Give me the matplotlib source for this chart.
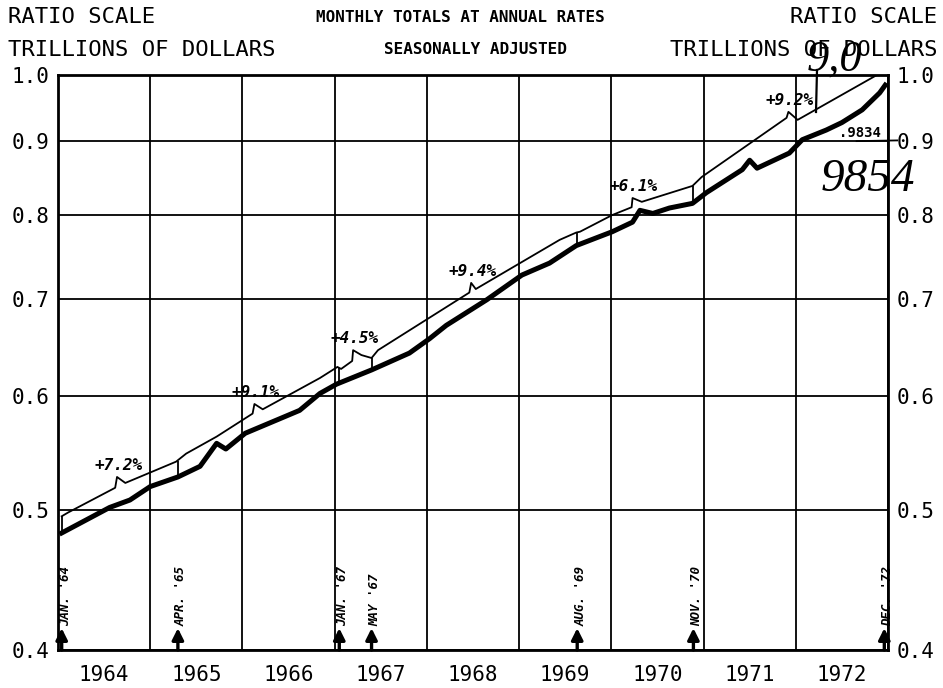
import numpy as np
import matplotlib.pyplot as plt
import matplotlib.transforms as mtransforms
from matplotlib.lines import Line2D
from matplotlib.ticker import NullLocator

# thick line: monthly totals, trillions of dollars (decimal year, value)
actual_dates = [1964.04, 1964.56, 1964.78, 1965.00, 1965.30, 1965.54, 1965.72, 1965.82,
                1966.03, 1966.37, 1966.62, 1966.84, 1967.02, 1967.40, 1967.81, 1968.03,
                1968.21, 1968.65, 1969.03, 1969.33, 1969.62, 1970.01, 1970.23, 1970.31,
                1970.45, 1970.63, 1970.88, 1971.03, 1971.42, 1971.50, 1971.58, 1971.93,
                1972.07, 1972.33, 1972.50, 1972.72, 1972.91, 1972.97]
actual_vals = [0.482, 0.502, 0.508, 0.519, 0.527, 0.536, 0.556, 0.551,
               0.565, 0.577, 0.586, 0.602, 0.611, 0.625, 0.642, 0.657,
               0.671, 0.699, 0.727, 0.741, 0.762, 0.779, 0.791, 0.806,
               0.802, 0.809, 0.815, 0.829, 0.860, 0.873, 0.862, 0.883,
               0.902, 0.916, 0.927, 0.946, 0.972, 0.984]

# thin line: growth-rate trend segments (with the little label notches)
trend_dates = [1964.04, 1964.11, 1964.62, 1964.64, 1964.73, 1965.28, 1965.39, 1965.72,
               1966.11, 1966.13, 1966.22, 1966.84, 1967.03, 1967.07, 1967.19, 1967.20,
               1967.29, 1967.40, 1967.47, 1968.46, 1968.48, 1968.53, 1969.44, 1969.62,
               1969.66, 1970.01, 1970.22, 1970.23, 1970.33, 1970.88, 1970.98, 1971.90,
               1971.92, 1972.02, 1972.88]
trend_vals = [0.495, 0.498, 0.518, 0.527, 0.522, 0.540, 0.547, 0.562,
              0.583, 0.592, 0.587, 0.617, 0.628, 0.626, 0.634, 0.645,
              0.640, 0.637, 0.645, 0.707, 0.718, 0.711, 0.769, 0.778,
              0.779, 0.800, 0.810, 0.822, 0.817, 0.838, 0.850, 0.934,
              0.943, 0.931, 1.000]
notch_idx = [3, 9, 15, 20, 27, 32]
rates = ["+7.2%", "+9.1%", "+4.5%", "+9.4%", "+6.1%", "+9.2%"]

# period boundaries
turn_dates = [1964.04, 1965.30, 1967.05, 1967.40, 1969.63, 1970.89, 1972.96]
turn_labels = ["JAN. '64", "APR. '65", "JAN. '67", "MAY '67", "AUG. '69", "NOV. '70", "DEC. '72"]
turn_low = [0.482, 0.527, 0.613, 0.625, 0.762, 0.815]
turn_high = [0.495, 0.541, 0.627, 0.637, 0.778, 0.838]

years = list(range(1964, 1973))
yticks = [0.4, 0.5, 0.6, 0.7, 0.8, 0.9, 1.0]
ytick_labels = ["0.4", "0.5", "0.6", "0.7", "0.8", "0.9", "1.0"]

mono = "DejaVu Sans Mono"

fig = plt.figure(figsize=(9.43, 6.88), dpi=100)
ax = fig.add_axes([58/943, 38/688, 830/943, 575/688])

ax.set_yscale("log")
ax.set_ylim(0.4, 1.0)
ax.set_xlim(1964, 1973)
ax.set_yticks(yticks, labels=ytick_labels)
ax.yaxis.set_minor_locator(NullLocator())
ax.set_xticks(range(1964, 1974), labels=[""] * 10)
ax.set_xticks([y + 0.5 for y in years], labels=[str(y) for y in years], minor=True)
ax.tick_params(which="both", length=0)
ax.tick_params(axis="y", labelleft=True, labelright=True, pad=6)
ax.tick_params(axis="x", which="minor", pad=11)
for lab in ax.get_xticklabels(minor=True) + ax.get_yticklabels():
    lab.set_fontfamily(mono)
    lab.set_fontsize(15)
ax.grid(which="major", color="black", lw=1.3)
for s in ax.spines.values():
    s.set_linewidth(2)

ax.plot(actual_dates, actual_vals, color="black", lw=3.6, solid_joinstyle="round")
ax.plot(trend_dates, trend_vals, color="black", lw=1.3)
ax.vlines(turn_dates[:6], turn_low, turn_high, color="black", lw=1.3)

for i, txt in zip(notch_idx, rates):
    ax.annotate(txt, (trend_dates[i], trend_vals[i]), xytext=(1, 3), textcoords="offset points",
                ha="center", va="bottom", fontsize=11.5, family=mono,
                fontweight="bold", fontstyle="italic")

trans = mtransforms.blended_transform_factory(ax.transData, ax.transAxes)
for d, txt in zip(turn_dates, turn_labels):
    ax.annotate("", xy=(d, 0.038), xytext=(d, 0.0), xycoords=trans, textcoords=trans,
                arrowprops=dict(arrowstyle="-|>", color="black", lw=2.4,
                                mutation_scale=17, shrinkA=0, shrinkB=0))
    ax.text(d + 0.04, 0.042, txt, transform=trans, rotation=90, ha="center", va="bottom",
            fontsize=9, family=mono, fontweight="bold", fontstyle="italic")

# note at the end of the series
ax.text(1972.70, 0.902, ".9834", ha="center", va="bottom", fontsize=10,
        family=mono, fontweight="bold")
ax.plot([1972.66, 1973.10], [0.9, 0.901], color="black", lw=1.3, clip_on=False)

# headings
fig.text(8/943, 1 - 17/688, "RATIO SCALE", family=mono, fontsize=16, va="center")
fig.text(8/943, 1 - 50/688, "TRILLIONS OF DOLLARS", family=mono, fontsize=16, va="center")
fig.text(937/943, 1 - 17/688, "RATIO SCALE", family=mono, fontsize=16, va="center", ha="right")
fig.text(937/943, 1 - 50/688, "TRILLIONS OF DOLLARS", family=mono, fontsize=16, va="center", ha="right")
fig.text(460/943, 1 - 17/688, "MONTHLY TOTALS AT ANNUAL RATES", family=mono, fontsize=11.5,
         fontweight="bold", va="center", ha="center")
fig.text(475/943, 1 - 50/688, "SEASONALLY ADJUSTED", family=mono, fontsize=11.5,
         fontweight="bold", va="center", ha="center")

# pencilled notes
pencil = ["Liberation Sans Narrow", "Liberation Serif"]
fig.text(834/943, 1 - 60/688, "9,0", family=pencil, fontstyle="italic",
         fontsize=32, color="black", ha="center", va="center")
fig.add_artist(Line2D([817/943, 816/943], [1 - 70/688, 1 - 112/688], color="black", lw=1.6))
fig.text(868/943, 1 - 180/688, "9854", family=pencil, fontstyle="italic",
         fontsize=34, color="black", ha="center", va="center")

plt.savefig("out.png", dpi=100)
